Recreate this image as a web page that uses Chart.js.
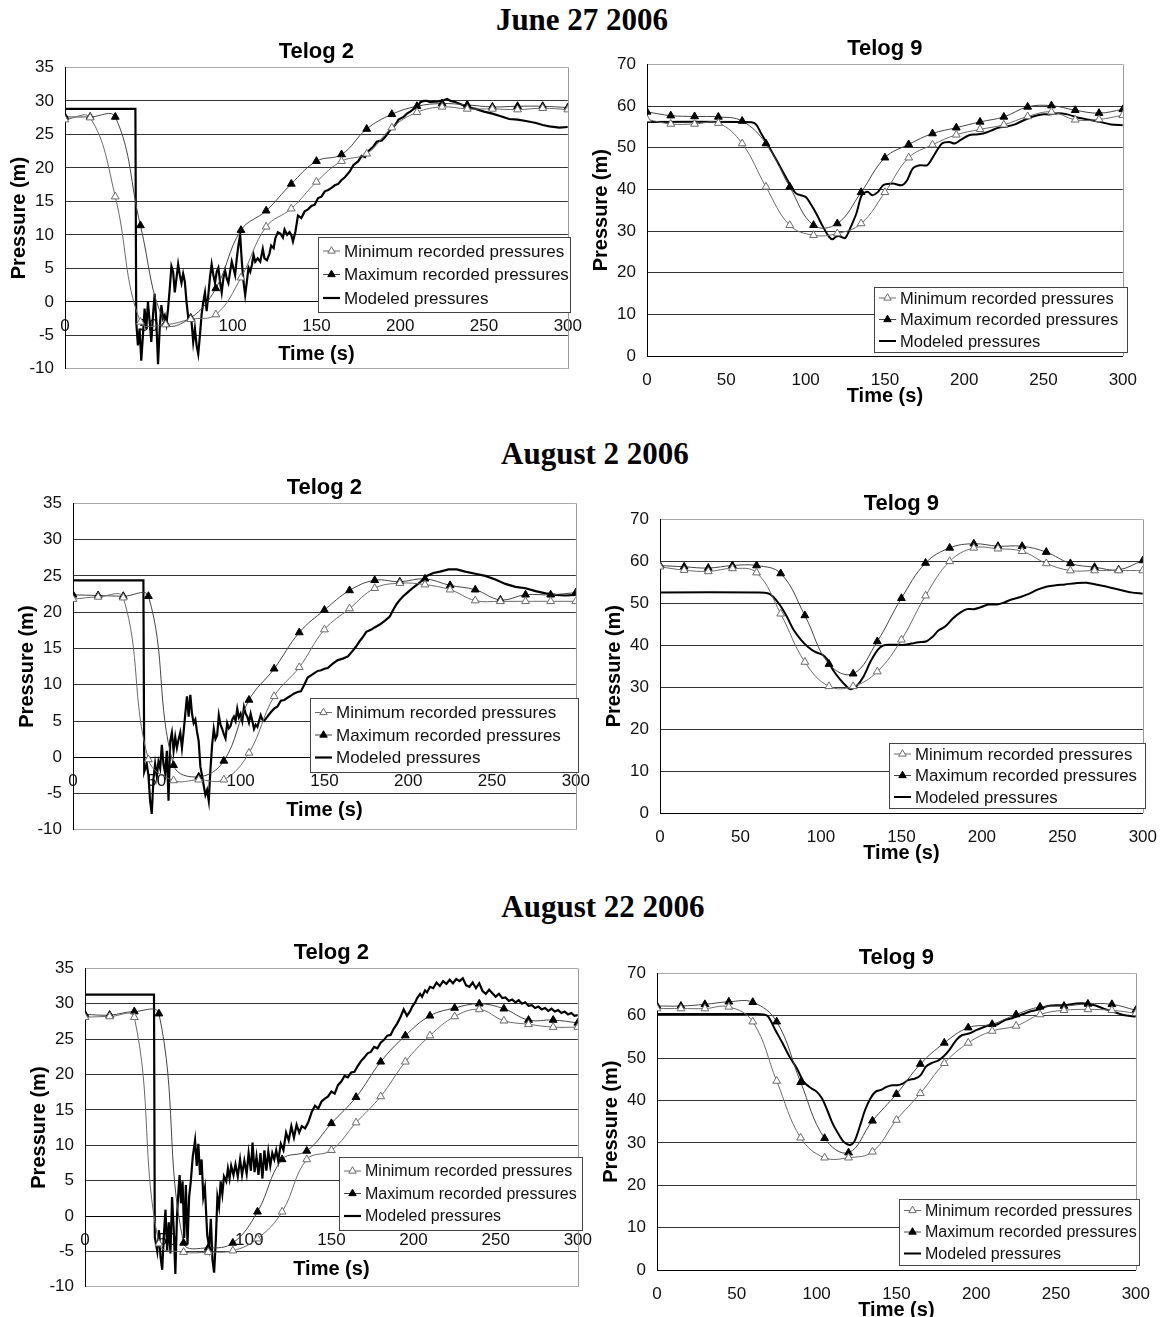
<!DOCTYPE html>
<html>
<head>
<meta charset="utf-8">
<title>Telog pressures 2006</title>
<script src="https://cdn.jsdelivr.net/npm/chart.js@4.4.1/dist/chart.umd.min.js"></script>
<style>
  body { margin: 0; background: #fff; width: 1166px; height: 1317px; overflow: hidden; position: relative; }
  .date { position: absolute; width: 400px; text-align: center; font: bold 31px "Liberation Serif", "Times New Roman", serif; line-height: 36px; color: #000; }
  canvas { position: absolute; }
</style>
</head>
<body>
<div class="date" style="left:382px;top:2px">June 27 2006</div>
<div class="date" style="left:395px;top:436px">August 2 2006</div>
<div class="date" style="left:403px;top:889px">August 22 2006</div>
<canvas id="jun_t2"></canvas>
<canvas id="jun_t9"></canvas>
<canvas id="aug2_t2"></canvas>
<canvas id="aug2_t9"></canvas>
<canvas id="aug22_t2"></canvas>
<canvas id="aug22_t9"></canvas>
<script>
// recorded values every 15 s
const recTime = [0, 15, 30, 45, 60, 75, 90, 105, 120, 135, 150, 165, 180, 195, 210, 225, 240, 255, 270, 285, 300];

// June 27 2006
const jun2Min = [27.2, 27.5, 15.7, -3.0, -3.4, -2.6, -1.9, 3.6, 11.2, 13.9, 17.9, 21.0, 22.1, 26.0, 28.3, 29.1, 28.8, 28.8, 28.7, 28.9, 28.7];
const jun2Max = [27.6, 27.6, 27.6, 11.4, -3.2, -2.4, 2.0, 10.7, 13.6, 17.6, 21.0, 22.0, 25.8, 28.0, 29.2, 29.6, 29.4, 29.1, 29.2, 29.2, 29.0];
const jun2Modeled = [[0,28.8],[42,28.8],[42.5,-3],[43.5,-6.5],[44.5,-4],[45.5,-8.8],[46.5,-5],[47.5,-1],[48.5,-4],[49.5,0],[50.5,-3],[51.5,-6],[52.5,-2],[53.5,1.2],[54.5,-3],[55.5,-9.3],[56.5,-4],[57.5,-0.5],[58.5,-2.5],[59.5,-2],[60.5,-3.3],[61.5,-1],[62.5,2],[63.5,5.3],[64.5,4.5],[65.5,1.4],[66.5,3.5],[67.5,5.6],[68.5,4],[69.5,2.8],[70.5,4.2],[71.5,3],[72.5,0],[73.5,-2.3],[74.5,-2.5],[75.5,-3],[76.5,-6],[77.5,-4],[78.5,-6.5],[79.5,-7.8],[80.5,-5],[81.5,-1.9],[82.5,0],[83.5,1.4],[84.5,-1.4],[85.5,1],[86.5,3.7],[87.5,5.6],[88.5,4],[89.5,2.8],[90.5,4.5],[91.5,5.1],[92.5,3],[93.5,1.4],[94.5,3.5],[95.5,4.7],[96.5,3.5],[97.5,2.8],[98.5,4.5],[99.5,6.0],[100.5,5],[101.5,4],[102.5,6.5],[103.5,8.5],[104.5,10.0],[105.5,6],[106.5,3],[107.5,1.0],[108.5,3],[109.5,5.1],[110.5,4.5],[111.5,5.5],[112.5,7.0],[113.5,6],[115,6.5],[116.5,6],[118,7.9],[119,6.5],[120.5,6.2],[122,7.2],[123,8.4],[124.5,8],[125.5,9.5],[127,10.4],[128.5,10.2],[130,9.6],[131,10.8],[132.5,10.0],[134,10.4],[135,10.0],[136,9.0],[137.5,10.5],[139,12.9],[141,12.5],[143,13.5],[145,13.8],[147,14.3],[149,14.5],[151,15.5],[153,15.7],[155,16.5],[157,16.7],[159,17.0],[161,17.4],[163,17.6],[165,18.2],[167,18.6],[170,19.5],[172,20.4],[175,21.0],[177,21.8],[179,21.6],[181,22.5],[184,23.2],[186,23.9],[189,24.1],[191,24.6],[193,25.3],[195,26.0],[197,26.4],[199,27.2],[202,27.6],[204,28.1],[206,28.4],[208,28.8],[210,29.0],[212,29.8],[214,30.0],[216,30.0],[218,29.8],[220,29.9],[222,29.9],[224,30.0],[226,30.1],[228,30.3],[230,30.0],[232,29.9],[235,29.6],[238,29.3],[241,29.0],[245,28.8],[250,28.4],[255,28.1],[260,27.7],[265,27.3],[270,27.2],[275,27.0],[281,26.7],[285,26.4],[289,26.2],[295,26.0],[300,26.1]];

const jun9Min = [56.8, 55.7, 55.7, 55.9, 51.0, 40.6, 31.4, 29.0, 29.4, 31.8, 39.3, 47.6, 50.7, 53.1, 54.4, 55.5, 57.5, 58.6, 56.7, 56.8, 57.8];
const jun9Max = [58.6, 57.7, 57.5, 57.4, 56.4, 51.0, 40.6, 31.4, 31.8, 39.3, 47.6, 50.8, 53.4, 54.8, 56.2, 57.4, 59.8, 60.1, 59.0, 58.3, 59.2];
const jun9Modeled = [[0,56.2],[60,56.2],[66,56.1],[69,55.5],[72,53.4],[77,50.2],[84,45.4],[91,40.6],[94,39.0],[100,38.2],[103,36.6],[106.7,34.2],[111,31.0],[114.8,28.6],[117,28.0],[119,28.6],[121,28.8],[123,28.5],[125,28.3],[128.5,31],[132,34.2],[135.4,38.6],[139,39.4],[142,38.6],[145.7,39.4],[149,41.0],[155,41.4],[160.7,41.0],[164,42.2],[167.5,45],[172,45.8],[176.7,45.8],[181,48.2],[186,51.0],[190.5,51.4],[194,51.0],[197.5,51.8],[203,53.0],[207.7,53.2],[212,53.4],[217,54.1],[221.5,54.8],[227,55.1],[232,55.6],[237.5,56.6],[243.4,57.5],[249,58.0],[253.6,58.0],[259.4,58.3],[265,58.0],[272,57.2],[279,56.7],[285.7,56.2],[292.6,55.6],[300,55.4]];

// August 2 2006
const aug2t2Min = [21.8, 22.1, 22.0, -0.3, -3.2, -3.1, -3.1, 0.6, 8.4, 12.4, 17.6, 20.5, 23.3, 24.0, 23.8, 23.1, 21.6, 21.5, 21.5, 21.5, 21.5];
const aug2t2Max = [22.4, 22.3, 22.2, 22.2, -1.1, -2.7, -0.5, 7.9, 12.2, 17.2, 20.3, 23.0, 24.4, 24.2, 24.6, 23.7, 23.1, 21.7, 22.4, 22.4, 22.7];
const aug2t2Modeled = [[0,24.4],[42,24.4],[42.5,-2],[44,-0.9],[45,-2.5],[46,-6],[47,-7.8],[48,-3],[49,-0.9],[50,-2.6],[51,-0.6],[52,-1.5],[53,1.7],[54,-1],[55,-2.2],[56,0.9],[57,-6],[58,2.2],[59,3.4],[60,0.9],[61,2.8],[62,1.3],[63,2.5],[64,3.4],[65,1.3],[66,3.5],[67,6.0],[68,8.4],[69,5.6],[70,8.6],[71,6],[72,4.7],[73,5.2],[74,3.5],[75,2.2],[76,-1.3],[77,-2.5],[78,-3.9],[79,-5.2],[80,-4.5],[81,-6.0],[82,-1.7],[83,1.7],[84,3.9],[85,2.5],[86,3.0],[87,5.8],[88,4.5],[89,3.9],[90,3.2],[91,2.6],[92,4.7],[93,4.0],[94,4.3],[95,5.2],[96,5.6],[97,5.0],[98,6.7],[99,5.5],[100,6.0],[101,5.0],[102,6.9],[103,6.0],[104,5.6],[105,4.8],[106,6.0],[107,5.0],[108,3.9],[109,4.5],[110,4.2],[111,5.0],[112,5.8],[113,5.2],[114,5.0],[116,5.6],[118,6.2],[120,6.7],[122,7.0],[124,7.8],[126,7.9],[128,8.2],[130,8.5],[132,8.8],[134,9.0],[136,9.1],[138,10.0],[140,11.0],[142,11.3],[144,11.6],[146,11.9],[148,12.0],[150,12.2],[152,12.3],[155,12.9],[158,13.4],[161,13.6],[164,13.9],[167,14.7],[169,15.3],[171,16.0],[173,16.6],[175,17.3],[178,17.6],[180,17.9],[183,18.3],[186,18.8],[189,19.4],[191,20.3],[193,21.1],[195,21.7],[197,22.2],[200,22.8],[203,23.4],[207,24.1],[211,25.0],[215,25.4],[219,25.6],[224,25.9],[229,25.9],[234,25.6],[240,25.3],[246,25.0],[252,24.5],[258,23.9],[264,23.5],[270,23.3],[276,22.9],[282,22.6],[288,22.4],[294,22.3],[300,22.4]];

const aug2t9Min = [58.7, 57.9, 57.6, 58.3, 57.3, 47.5, 36.0, 30.2, 30.2, 33.7, 41.3, 51.8, 60.0, 63.2, 63.0, 62.4, 59.5, 57.8, 57.8, 57.8, 57.8];
const aug2t9Max = [59.0, 58.7, 58.4, 59.0, 59.0, 57.1, 47.1, 35.5, 33.2, 40.9, 51.2, 59.6, 63.2, 64.2, 63.6, 63.6, 62.2, 59.5, 58.6, 58.0, 60.2];
const aug2t9Modeled = [[0,52.6],[62,52.6],[67,52.4],[70,51.7],[74.3,49.7],[78.7,46.9],[83,43.7],[87.6,41.3],[92,39.6],[96.5,38.4],[101,37.7],[104.2,36.5],[107.5,34.1],[112,31.8],[116.4,30.0],[118.6,29.5],[122,30.2],[126.4,32.5],[130.8,36.1],[135.3,38.9],[138.6,39.9],[143,40.1],[147.5,40.1],[151.9,40.1],[156.3,40.4],[160.8,40.7],[165.2,40.9],[169.6,42.1],[173,43.5],[177.4,44.5],[181.8,46.3],[186.3,47.7],[190.7,48.6],[195,48.6],[199.6,49.1],[204,49.7],[209.5,49.7],[214,50.2],[218.4,50.9],[224,51.5],[229.5,52.3],[235,53.3],[240.6,54.0],[246,54.3],[251.7,54.5],[258.3,54.8],[265,54.9],[271.6,54.4],[278.3,53.9],[285,53.3],[292.8,52.6],[300,52.3]];

// August 22 2006
const aug22t2Min = [28.1, 28.2, 28.1, -3.9, -5.1, -5.1, -4.9, -3.2, 0.6, 8.0, 9.3, 13.2, 16.9, 21.8, 25.5, 28.2, 29.2, 27.6, 27.1, 26.7, 26.7];
const aug22t2Max = [28.5, 28.4, 28.9, 28.6, -3.8, -4.5, -3.8, 0.6, 8.0, 9.2, 13.1, 16.8, 21.8, 25.5, 28.3, 29.4, 30.0, 29.3, 27.7, 27.7, 27.3];
const aug22t2Modeled = [[0,31.3],[42,31.3],[42.5,-3],[44,-5],[45,-2],[46,-5.8],[47,-7.6],[48,-2.7],[49,0.9],[50,-4.9],[51,-0.9],[52,-5.3],[53,2.7],[54,-1.8],[55,-8.2],[56,0],[57,4.0],[57.6,5.8],[58.4,1.8],[59.4,4.9],[60.4,-3.1],[61.4,4.4],[62.4,-4.0],[63.4,2.7],[64.4,4.9],[65.6,8.4],[67,10.7],[68,7.1],[69,10.2],[70,5.8],[71,8.0],[72,2.7],[73,4.0],[74.4,-2.7],[75.6,-4.4],[76.6,-0.4],[77.6,-6.2],[78.6,-8.0],[79.6,-3.6],[80.6,2.7],[81.6,1.3],[82.6,4.9],[83.6,3.1],[84.6,5.6],[86,4.9],[87,6.7],[88,5.3],[89,7.1],[90.4,5.8],[91.6,7.3],[93,5.6],[94.4,8.0],[95.6,5.8],[97,7.8],[98.4,6.0],[99.6,8.9],[101,6.4],[102,10.4],[103.2,6.2],[104.4,8.4],[105.6,5.8],[106.8,8.9],[108,5.3],[109.2,9.3],[110.4,6.4],[111.6,9.1],[112.8,7.1],[114,8.9],[115.2,8.0],[116.4,9.3],[117.6,7.8],[119.2,10.2],[120.8,9.3],[122.4,11.8],[124,10.7],[125.6,12.7],[127.2,11.1],[128.8,12.9],[130.4,11.8],[132,12.7],[134,12.4],[136,13.3],[138,14.7],[140,15.6],[142,15.2],[144,16.2],[146,16.6],[148,16.9],[150,17.6],[152,17.3],[154,18.5],[156,19.0],[158,19.8],[160,19.6],[162,20.3],[164,20.4],[166,21.2],[168,21.9],[170,22.4],[172,23.0],[174,23.2],[176,23.9],[178,23.7],[180,24.5],[182,24.9],[184,25.5],[186,25.6],[188,26.5],[190,27.2],[192,28.1],[194,29.2],[196,28.3],[198,29.0],[199.2,29.6],[201,30.2],[202.2,30.8],[204,31.4],[205.2,31.0],[207,31.9],[208.2,31.6],[210,32.4],[212,32.2],[214,33.0],[216,32.5],[218,33.2],[220,32.8],[222,33.4],[224,32.9],[226,33.5],[228,33.2],[230,33.6],[232,32.6],[234,32.4],[236,33.0],[238,32.2],[240,32.9],[242,31.8],[244,31.4],[246,32.0],[248,31.5],[250,31.0],[252,31.4],[254,30.8],[256,30.9],[258,30.4],[260,30.6],[262,30.2],[264,30.5],[266,30.0],[268,30.2],[270,29.7],[272,29.8],[274,29.4],[276,29.6],[278,29.2],[280,29.4],[282,29.0],[284,29.3],[286,28.9],[288,29.1],[290,28.7],[292,28.9],[294,28.5],[296,28.7],[298,28.3],[300,28.4]];

const aug22t9Min = [61.7, 61.7, 61.7, 62.1, 58.6, 44.6, 31.2, 26.5, 26.5, 27.9, 35.4, 41.7, 48.8, 53.6, 56.4, 57.6, 60.3, 61.3, 61.5, 61.3, 60.6];
const aug22t9Max = [62.3, 62.3, 62.7, 63.3, 63.2, 58.6, 44.3, 31.1, 27.7, 35.2, 41.5, 48.6, 53.6, 57.2, 58.0, 60.3, 62.1, 62.3, 62.8, 62.7, 61.3];
const aug22t9Modeled = [[0,60.4],[62,60.4],[67,60.3],[69.7,59.8],[74.2,56.6],[78.7,53.5],[83.1,50.3],[87.6,47.6],[92,44.4],[96.6,42.9],[100,42.1],[103.4,40.5],[106.7,37.7],[110,34.6],[113.5,32.2],[116.9,30.3],[120.7,29.5],[123.6,30.3],[127,33.8],[130.3,37.7],[133.7,40.5],[137,42.1],[140.4,42.5],[143.8,43.2],[147.2,43.6],[150.6,43.6],[154,44.0],[157.3,44.8],[161.8,45.2],[165.2,46.0],[168.5,48.0],[171.9,48.8],[176.4,49.5],[179.8,50.5],[183.1,51.9],[187.6,54.3],[191,55.4],[195.5,55.8],[200,56.6],[204.5,57.3],[209,57.8],[213.5,58.0],[218,59.0],[222.5,59.4],[228,60.2],[233.7,61.0],[239.3,61.5],[244.9,62.3],[250.6,62.5],[256.2,62.5],[262.9,62.9],[268.5,62.9],[274.2,62.5],[279.8,61.7],[285.4,61.0],[292.1,60.2],[300,59.8]];

// page layout of each panel: plot box [left, top, right, bottom], legend box [x, y, w, h]
const panels = [
  { id: "jun_t2",   title: "Telog 2", plot: [65, 67, 572, 388],    y: [-10, 35, 5], legend: [318, 237, 252, 75],  gap: 23.5, font: 17,   min: jun2Min,    max: jun2Max,    model: jun2Modeled },
  { id: "jun_t9",   title: "Telog 9", plot: [647, 64, 1127, 356],  y: [0, 70, 10],  legend: [874, 287, 253, 65],  gap: 21.5, font: 16.5, min: jun9Min,    max: jun9Max,    model: jun9Modeled },
  { id: "aug2_t2",  title: "Telog 2", plot: [73, 503, 580, 849],   y: [-10, 35, 5], legend: [310, 698, 268, 74],  gap: 22.5, font: 17,   min: aug2t2Min,  max: aug2t2Max,  model: aug2t2Modeled },
  { id: "aug2_t9",  title: "Telog 9", plot: [660, 519, 1147, 813], y: [0, 70, 10],  legend: [889, 743, 256, 65],  gap: 21.5, font: 16.8, min: aug2t9Min,  max: aug2t9Max,  model: aug2t9Modeled },
  { id: "aug22_t2", title: "Telog 2", plot: [85, 968, 582, 1306],  y: [-10, 35, 5], legend: [339, 1157, 243, 73], gap: 22.5, font: 16,   min: aug22t2Min, max: aug22t2Max, model: aug22t2Modeled },
  { id: "aug22_t9", title: "Telog 9", plot: [657, 973, 1140, 1270], y: [0, 70, 10], legend: [899, 1199, 240, 66], gap: 21.5, font: 16,   min: aug22t9Min, max: aug22t9Max, model: aug22t9Modeled },
];

Chart.defaults.font.family = '"Liberation Sans", Arial, sans-serif';
Chart.defaults.color = "#111";

function tri(ctx, x, y, r, fill, stroke) {
  ctx.beginPath();
  ctx.moveTo(x, y - r);
  ctx.lineTo(x + r * 0.866, y + r * 0.5);
  ctx.lineTo(x - r * 0.866, y + r * 0.5);
  ctx.closePath();
  ctx.fillStyle = fill;
  ctx.fill();
  ctx.strokeStyle = stroke;
  ctx.lineWidth = 1;
  ctx.stroke();
}

// grey frame on the right side of the plot area
const frame = {
  id: "frame",
  beforeDatasetsDraw(chart) {
    const a = chart.chartArea, ctx = chart.ctx;
    ctx.save();
    ctx.strokeStyle = "#999";
    ctx.lineWidth = 1;
    ctx.beginPath();
    ctx.moveTo(Math.round(a.right) + 0.5, a.top);
    ctx.lineTo(Math.round(a.right) + 0.5, a.bottom);
    ctx.stroke();
    ctx.restore();
  }
};

// boxed legend inside the plot, like the Excel original
const boxLegend = {
  id: "boxLegend",
  afterDatasetsDraw(chart, args, opts) {
    const ctx = chart.ctx;
    const [x, y, w, h] = opts.rect;
    ctx.save();
    ctx.fillStyle = "#fff";
    ctx.fillRect(x, y, w, h);
    ctx.strokeStyle = "#444";
    ctx.lineWidth = 1;
    ctx.strokeRect(Math.round(x) + 0.5, Math.round(y) + 0.5, Math.round(w), Math.round(h));
    const y0 = y + (h - 2 * opts.gap) / 2;
    ctx.font = opts.font + 'px "Liberation Sans", Arial, sans-serif';
    ctx.textBaseline = "middle";
    chart.data.datasets.forEach((ds, i) => {
      const ry = y0 + i * opts.gap;
      ctx.strokeStyle = ds.borderColor;
      ctx.lineWidth = ds.borderWidth;
      ctx.beginPath();
      ctx.moveTo(x + 5, ry);
      ctx.lineTo(x + 22, ry);
      ctx.stroke();
      if (ds.pointRadius > 0) tri(ctx, x + 13.5, ry, 4.3, ds.pointBackgroundColor, ds.pointBorderColor);
      ctx.fillStyle = "#111";
      ctx.fillText(ds.label, x + 26, ry + 1);
    });
    ctx.restore();
  }
};

panels.forEach(p => {
  const [l, t, r, b] = p.plot;
  const low = p.y[0] < 0;   // Telog 2: time axis crosses at zero inside the plot
  const cv = document.getElementById(p.id);
  const left = l - 58, top = t - 31;
  const w = r + 24 - left;
  const h = (low ? b + 2 : b + 52) - top;
  cv.width = w;
  cv.height = h;
  cv.style.left = left + "px";
  cv.style.top = top + "px";

  new Chart(cv, {
    type: "line",
    data: {
      datasets: [
        {
          label: "Minimum recorded pressures",
          data: recTime.map((t, i) => ({ x: t, y: p.min[i] })),
          borderColor: "#6a6a6a", borderWidth: 1,
          pointStyle: "triangle", pointRadius: 4.5,
          pointBackgroundColor: "#fff", pointBorderColor: "#6a6a6a", pointBorderWidth: 1,
          tension: 0.4
        },
        {
          label: "Maximum recorded pressures",
          data: recTime.map((t, i) => ({ x: t, y: p.max[i] })),
          borderColor: "#444", borderWidth: 1,
          pointStyle: "triangle", pointRadius: 4.5,
          pointBackgroundColor: "#000", pointBorderColor: "#000", pointBorderWidth: 1,
          tension: 0.4
        },
        {
          label: "Modeled pressures",
          data: p.model.map(([x, y]) => ({ x, y })),
          borderColor: "#000", borderWidth: low ? 2.2 : 2,
          pointRadius: 0,
          tension: low ? 0 : 0.3
        }
      ]
    },
    options: {
      responsive: false,
      animation: false,
      layout: { padding: { left: 0, right: 24, top: 0, bottom: low ? 2 : 0 } },
      plugins: {
        legend: { display: false },
        tooltip: { enabled: false },
        title: {
          display: true, text: p.title, fullSize: false, color: "#000",
          font: { size: 22, weight: "bold" }, padding: { top: 3, bottom: 2 }
        },
        boxLegend: {
          rect: [p.legend[0] - left, p.legend[1] - top, p.legend[2], p.legend[3]],
          gap: p.gap, font: p.font
        }
      },
      scales: {
        x: {
          type: "linear", min: 0, max: 300,
          position: low ? { y: 0 } : "bottom",
          ticks: { stepSize: 50, padding: 14, color: "#111", font: { size: 17 }, maxRotation: 0 },
          grid: { display: false, drawTicks: false },
          border: { display: true, color: "#000", width: 1 },
          title: { display: true, text: "Time (s)", color: "#000", font: { size: 20, weight: "bold" }, padding: 0 },
          afterFit: s => { s.height = low ? 65 : 52; }
        },
        y: {
          min: p.y[0], max: p.y[1],
          ticks: { stepSize: p.y[2], padding: 11, color: "#111", font: { size: 17 } },
          grid: {
            drawTicks: false,
            color: c => (c.tick && (c.tick.value === p.y[1] || (low && c.tick.value === p.y[0]))) ? "#aaa" : "#333"
          },
          border: { display: true, color: "#000", width: 1 },
          title: { display: true, text: "Pressure (m)", color: "#000", font: { size: 20, weight: "bold" }, padding: 0 },
          afterFit: s => { s.width = 58; }
        }
      }
    },
    plugins: [frame, boxLegend]
  });
});
</script>
</body>
</html>
